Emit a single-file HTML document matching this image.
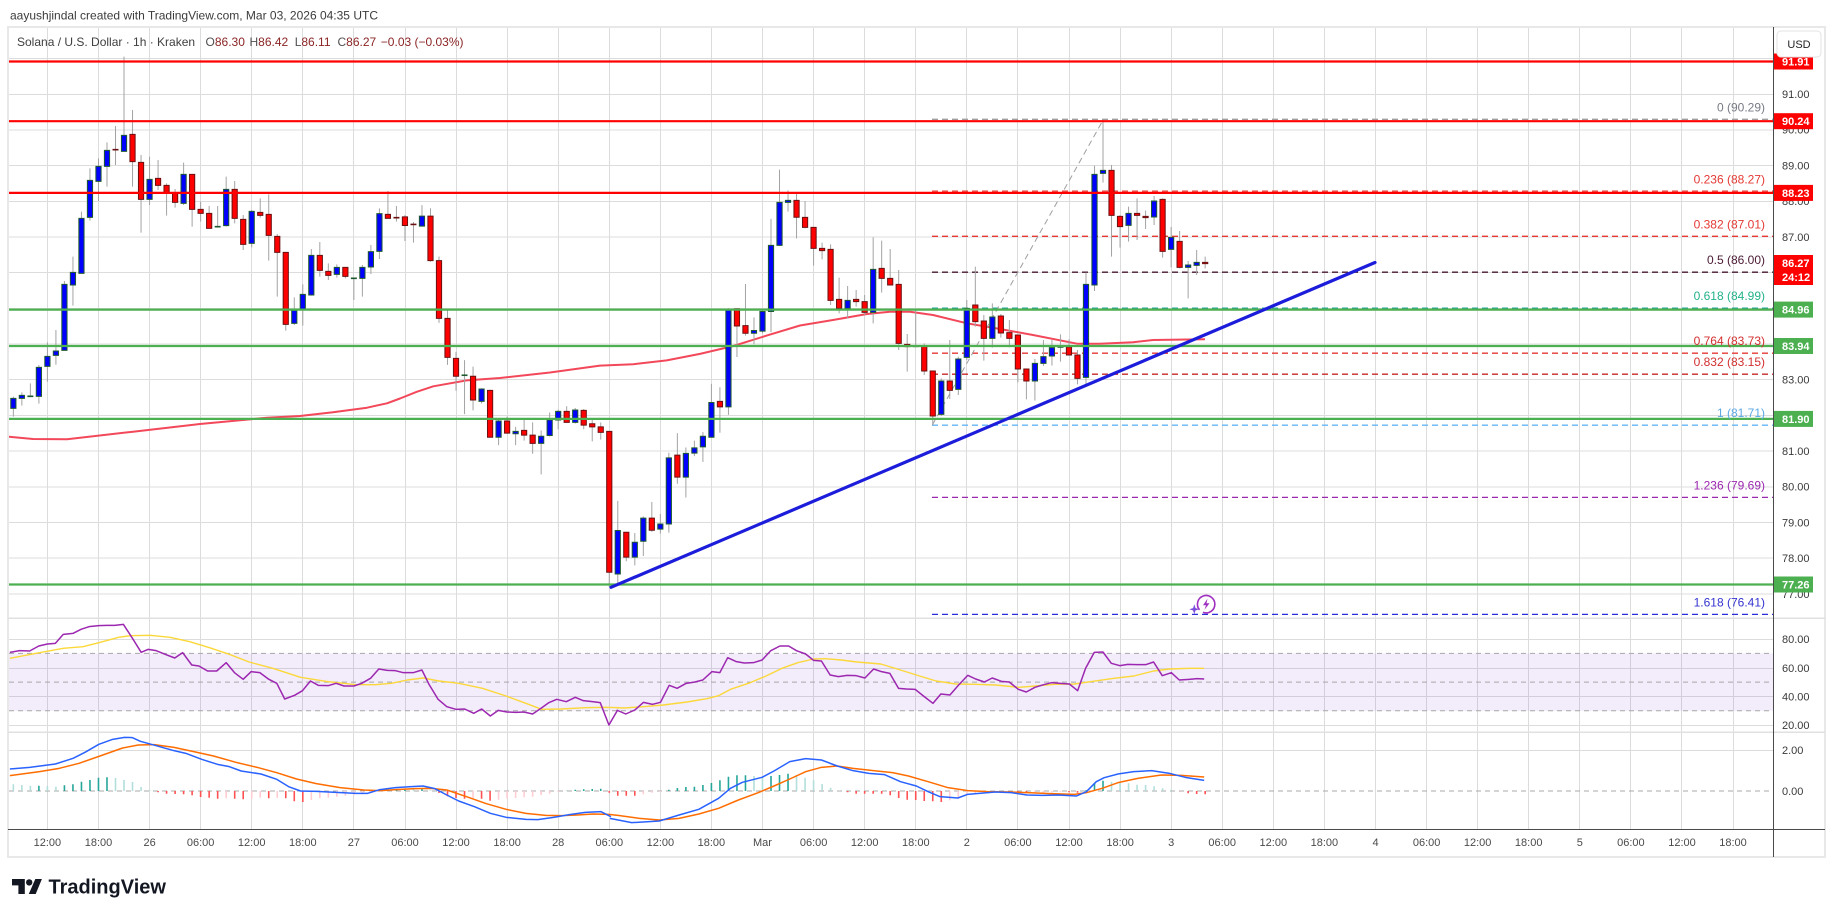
<!DOCTYPE html>
<html><head><meta charset="utf-8"><style>
html,body{margin:0;padding:0;background:#fff;}
svg{display:block;font-family:"Liberation Sans",Arial,sans-serif;}
.w{fill:none;stroke:#a3a3a3;stroke-width:1;vector-effect:non-scaling-stroke;}
.u rect{fill:#0000ff;stroke:#1e5a2e;stroke-width:1;vector-effect:non-scaling-stroke;}
.d rect{fill:#ff0000;stroke:#6b1010;stroke-width:1;vector-effect:non-scaling-stroke;}
.zu{fill:none;stroke:#1e5a2e;stroke-width:1.6;vector-effect:non-scaling-stroke;}
.zd{fill:none;stroke:#6b1010;stroke-width:1.6;vector-effect:non-scaling-stroke;}
.ln{fill:none;stroke-linejoin:round;vector-effect:non-scaling-stroke;}
</style></head><body>
<svg width="1835" height="917" viewBox="0 0 1835 917" xmlns="http://www.w3.org/2000/svg">
<defs><clipPath id="mp"><rect x="9" y="28" width="1764" height="590"/></clipPath>
<clipPath id="rp"><rect x="9" y="619" width="1764" height="113"/></clipPath>
<clipPath id="mc"><rect x="9" y="733" width="1764" height="96"/></clipPath></defs>
<rect width="1835" height="917" fill="#fff"/>
<rect x="8" y="27" width="1817" height="830" fill="#fff" stroke="#e8e8e8" stroke-width="2"/>
<!-- grid -->
<path stroke="#dcdcdc" stroke-width="1" fill="none" d="M47.5 28V829M98.5 28V829M149.5 28V829M200.5 28V829M251.5 28V829M302.5 28V829M353.5 28V829M405.5 28V829M456.5 28V829M507.5 28V829M558.5 28V829M609.5 28V829M660.5 28V829M711.5 28V829M762.5 28V829M813.5 28V829M864.5 28V829M915.5 28V829M966.5 28V829M1017.5 28V829M1069.5 28V829M1120.5 28V829M1171.5 28V829M1222.5 28V829M1273.5 28V829M1324.5 28V829M1375.5 28V829M1426.5 28V829M1477.5 28V829M1528.5 28V829M1579.5 28V829M1630.5 28V829M1681.5 28V829M1733.5 28V829
M9 58.5H1773M9 94.5H1773M9 130H1773M9 165.5H1773M9 201.5H1773M9 237H1773M9 272.5H1773M9 308.5H1773M9 344H1773M9 379.5H1773M9 415.5H1773M9 451H1773M9 487H1773M9 522.5H1773M9 558H1773M9 594H1773
M9 639.5H1773M9 668.5H1773M9 696.5H1773M9 725.5H1773M9 750.5H1773"/>
<rect x="9" y="653.4" width="1764" height="57.4" fill="rgba(140,70,220,0.10)"/>
<g stroke="#a8a8a8" stroke-width="1" stroke-dasharray="5,4">
<line x1="9" y1="653.4" x2="1773" y2="653.4"/>
<line x1="9" y1="682.1" x2="1773" y2="682.1"/>
<line x1="9" y1="710.8" x2="1773" y2="710.8"/>
<line x1="9" y1="791" x2="1773" y2="791"/>
</g>
<!-- MA -->
<polyline clip-path="url(#mp)" fill="none" stroke="#f2485a" stroke-width="2" stroke-linejoin="round" points="8,436.7 33,439 67,439.3 133,431.7 200,424 267,417.7 300,416 333,412.3 367,407.7 387,403.3 400,398.5 416.7,391.8 433.3,386.3 466.7,380.4 500,378 550,372.5 600,365.6 633.3,364.2 666.7,360.4 700,353.9 733.3,346 766.7,335.6 800,325.5 833,320 867,314 890,311.7 910,311.7 933,315 967,323.3 1000,329 1033,335 1077,343.7 1100,343.7 1133,342.3 1153,340 1205,339.3"/>
<!-- fib -->
<g stroke-width="1.3" stroke-dasharray="6,4" fill="none">
<line x1="932" y1="119.3" x2="1773" y2="119.3" stroke="#9e9e9e"/>
<line x1="932" y1="191.1" x2="1773" y2="191.1" stroke="#e53935"/>
<line x1="932" y1="236.3" x2="1773" y2="236.3" stroke="#e53935"/>
<line x1="932" y1="272.2" x2="1773" y2="272.2" stroke="#4a1a33"/>
<line x1="932" y1="308.2" x2="1773" y2="308.2" stroke="#26a69a"/>
<line x1="932" y1="353.2" x2="1773" y2="353.2" stroke="#e53935"/>
<line x1="932" y1="374.2" x2="1773" y2="374.2" stroke="#c62828"/>
<line x1="932" y1="425.2" x2="1773" y2="425.2" stroke="#64b5f6"/>
<line x1="932" y1="497.4" x2="1773" y2="497.4" stroke="#9c27b0"/>
<line x1="932" y1="614.4" x2="1773" y2="614.4" stroke="#2b2bd9"/>
<line x1="932.3" y1="425" x2="1103.5" y2="119.3" stroke="#9e9e9e" stroke-width="1"/>
</g>
<!-- candles -->
<g clip-path="url(#mp)">
<g transform="translate(47.4,55) scale(8.513,0.333333)">
<path class="w" d="M-4 1025V1085M-3 1012V1052M-2 985V1026M-1 930V1046M0 862V980M1 825V929M2 678V886M3 605V752M4 470V655M5 340V497M6 310V438M7 262V395M8 213V330M9 5V290M10 165V395M11 300V533M12 305V450M13 315V405M14 385V482M15 402V458M16 323V450M17 357V515M18 440V500M19 453V520M20 453V518M21 365V515M22 378V505M23 480V585M24 465V577M25 430V488M26 418V617M27 537V725M28 592V827M29 727V810M30 688V812M31 582V722M32 561V665M33 625V675M34 628V668M35 637V670M36 668V735M37 630V725M38 570V657M39 460V612M40 408V490M41 453V500"/>
<g class="u">
<rect x="-4.305" y="1030" width="0.61" height="30"/><rect x="-3.305" y="1021" width="0.61" height="9"/><rect x="-1.305" y="937" width="0.61" height="87"/><rect x="-0.305" y="904" width="0.61" height="30"/><rect x="0.695" y="888" width="0.61" height="13"/><rect x="1.695" y="688" width="0.61" height="198"/><rect x="2.695" y="652" width="0.61" height="38"/><rect x="3.695" y="490" width="0.61" height="165"/><rect x="4.695" y="376" width="0.61" height="111"/><rect x="5.695" y="334" width="0.61" height="45"/><rect x="6.695" y="286" width="0.61" height="48"/><rect x="8.695" y="241" width="0.61" height="48"/><rect x="11.695" y="373" width="0.61" height="60"/><rect x="15.695" y="358" width="0.61" height="87"/><rect x="20.695" y="403" width="0.61" height="109"/><rect x="23.695" y="469" width="0.61" height="96"/><rect x="28.695" y="766" width="0.61" height="39"/><rect x="29.695" y="718" width="0.61" height="44"/><rect x="30.695" y="601" width="0.61" height="119"/><rect x="33.695" y="637" width="0.61" height="21"/><rect x="36.695" y="637" width="0.61" height="33"/><rect x="37.695" y="590" width="0.61" height="46"/><rect x="38.695" y="476" width="0.61" height="113"/>
</g>
<g class="d">
<rect x="9.695" y="238" width="0.61" height="82"/><rect x="10.695" y="322" width="0.61" height="111"/><rect x="12.695" y="370" width="0.61" height="21"/><rect x="13.695" y="391" width="0.61" height="23"/><rect x="14.695" y="414" width="0.61" height="28"/><rect x="16.695" y="358" width="0.61" height="105"/><rect x="17.695" y="463" width="0.61" height="12"/><rect x="18.695" y="475" width="0.61" height="45"/><rect x="21.695" y="403" width="0.61" height="87"/><rect x="22.695" y="493" width="0.61" height="75"/><rect x="24.695" y="472" width="0.61" height="9"/><rect x="25.695" y="478" width="0.61" height="63"/><rect x="26.695" y="544" width="0.61" height="48"/><rect x="27.695" y="592" width="0.61" height="216"/><rect x="31.695" y="601" width="0.61" height="45"/><rect x="32.695" y="649" width="0.61" height="12"/><rect x="34.695" y="637" width="0.61" height="27"/><rect x="39.695" y="478" width="0.61" height="12"/>
</g>
<path class="zu" d="M-2.35 1024H-1.65M19.65 515H20.35M35.65 670H36.35"/>
<path class="zd" d="M7.65 284H8.35M40.65 488H41.35"/>
</g>
<g transform="translate(47.4,55) scale(8.513,0.344353)">
<path class="w" d="M42 465V540M43 485V545M44 436V497M45 445V600M46 585V778M47 740V900M48 862V975M49 886V1043M50 905V1032M51 968V1012M52 972V1110M53 1055V1133M54 1050V1100M55 1080V1133M56 1060V1120M57 1067V1158M58 1090V1218M59 1038V1108M60 1030V1087M61 1020V1068M62 1025V1070M63 1028V1087M64 1058V1122M65 1067V1117M66 1093V1545M67 1295V1540M68 1386V1470M69 1388V1482M70 1340V1455M71 1298V1385M72 1333V1390M73 1155V1387M74 1098V1245M75 1140V1285M76 1120V1165M77 1095V1182M78 955V1110M79 965V1097M80 735V1045M81 735V877M82 665V815M83 762V840M84 740V808M85 476V805M86 333V555M87 393V455M88 400V533"/>
<g class="u">
<rect x="43.695" y="468" width="0.61" height="29"/><rect x="50.695" y="970" width="0.61" height="36"/><rect x="52.695" y="1063" width="0.61" height="47"/><rect x="54.695" y="1093" width="0.61" height="7"/><rect x="57.695" y="1107" width="0.61" height="21"/><rect x="58.695" y="1060" width="0.61" height="45"/><rect x="59.695" y="1035" width="0.61" height="25"/><rect x="61.695" y="1031" width="0.61" height="36"/><rect x="66.695" y="1381" width="0.61" height="126"/><rect x="68.695" y="1415" width="0.61" height="43"/><rect x="69.695" y="1345" width="0.61" height="67"/><rect x="71.695" y="1362" width="0.61" height="15"/><rect x="72.695" y="1170" width="0.61" height="192"/><rect x="74.695" y="1157" width="0.61" height="69"/><rect x="75.695" y="1141" width="0.61" height="15"/><rect x="76.695" y="1107" width="0.61" height="31"/><rect x="77.695" y="1009" width="0.61" height="101"/><rect x="79.695" y="740" width="0.61" height="282"/><rect x="82.695" y="800" width="0.61" height="8"/><rect x="83.695" y="745" width="0.61" height="57"/><rect x="84.695" y="553" width="0.61" height="192"/><rect x="85.695" y="428" width="0.61" height="125"/><rect x="86.695" y="422" width="0.61" height="6"/>
</g>
<g class="d">
<rect x="41.695" y="470" width="0.61" height="25"/><rect x="44.695" y="468" width="0.61" height="129"/><rect x="45.695" y="597" width="0.61" height="168"/><rect x="46.695" y="765" width="0.61" height="113"/><rect x="47.695" y="881" width="0.61" height="52"/><rect x="49.695" y="933" width="0.61" height="69"/><rect x="51.695" y="974" width="0.61" height="136"/><rect x="53.695" y="1063" width="0.61" height="35"/><rect x="55.695" y="1090" width="0.61" height="14"/><rect x="56.695" y="1104" width="0.61" height="24"/><rect x="60.695" y="1035" width="0.61" height="32"/><rect x="62.695" y="1032" width="0.61" height="43"/><rect x="63.695" y="1071" width="0.61" height="9"/><rect x="64.695" y="1080" width="0.61" height="16"/><rect x="65.695" y="1093" width="0.61" height="409"/><rect x="67.695" y="1386" width="0.61" height="72"/><rect x="70.695" y="1345" width="0.61" height="35"/><rect x="73.695" y="1162" width="0.61" height="64"/><rect x="78.695" y="1006" width="0.61" height="16"/><rect x="80.695" y="737" width="0.61" height="50"/><rect x="81.695" y="786" width="0.61" height="22"/><rect x="87.695" y="422" width="0.61" height="49"/>
</g>
<path class="zu" d="M48.65 930H49.35"/>
<path class="zd" d="M42.65 492H43.35"/>
</g>
<g transform="translate(47.4,55) scale(8.513,0.333333)">
<path class="w" d="M89 438V520M90 517V632M91 563V613M92 568V750M93 668V775M94 693V790M95 705V755M96 720V780M97 547V805M98 557V713M99 582V690M100 645V885M101 837V950M102 765V876M103 865V960M104 948V1110M105 970V1083M106 855V1032M107 905V1020M108 735V915M109 635V815M110 780V917M111 745V878M112 777V848M113 795V877M114 840V982M115 942V1033M116 912V1037M117 855V933M118 855V932M119 838V920M120 853V902M121 885V988M122 653V993M123 332V708M124 192V383M125 330V605M126 480V578M127 455V560M128 430V555M129 467V522M130 423V510M131 430V608M132 516V637M133 528V640M134 618V730M135 585V660M136 605V640"/>
<g class="u">
<rect x="93.695" y="736" width="0.61" height="24"/><rect x="96.695" y="643" width="0.61" height="129"/><rect x="104.695" y="978" width="0.61" height="100"/><rect x="106.695" y="912" width="0.61" height="91"/><rect x="107.695" y="760" width="0.61" height="147"/><rect x="110.695" y="786" width="0.61" height="64"/><rect x="115.695" y="925" width="0.61" height="53"/><rect x="116.695" y="905" width="0.61" height="20"/><rect x="117.695" y="878" width="0.61" height="25"/><rect x="121.695" y="688" width="0.61" height="279"/><rect x="122.695" y="358" width="0.61" height="332"/><rect x="123.695" y="346" width="0.61" height="9"/><rect x="126.695" y="475" width="0.61" height="36"/><rect x="129.695" y="438" width="0.61" height="48"/><rect x="131.695" y="547" width="0.61" height="36"/><rect x="133.695" y="630" width="0.61" height="7"/><rect x="134.695" y="622" width="0.61" height="9"/>
</g>
<g class="d">
<rect x="88.695" y="487" width="0.61" height="30"/><rect x="89.695" y="517" width="0.61" height="63"/><rect x="90.695" y="580" width="0.61" height="7"/><rect x="91.695" y="583" width="0.61" height="153"/><rect x="92.695" y="733" width="0.61" height="27"/><rect x="94.695" y="733" width="0.61" height="7"/><rect x="95.695" y="740" width="0.61" height="32"/><rect x="97.695" y="640" width="0.61" height="30"/><rect x="98.695" y="670" width="0.61" height="20"/><rect x="99.695" y="688" width="0.61" height="177"/><rect x="100.695" y="868" width="0.61" height="7"/><rect x="102.695" y="872" width="0.61" height="76"/><rect x="103.695" y="948" width="0.61" height="135"/><rect x="105.695" y="978" width="0.61" height="28"/><rect x="108.695" y="750" width="0.61" height="50"/><rect x="109.695" y="798" width="0.61" height="52"/><rect x="111.695" y="783" width="0.61" height="51"/><rect x="112.695" y="833" width="0.61" height="17"/><rect x="113.695" y="840" width="0.61" height="102"/><rect x="114.695" y="942" width="0.61" height="36"/><rect x="119.695" y="876" width="0.61" height="24"/><rect x="120.695" y="900" width="0.61" height="70"/><rect x="124.695" y="346" width="0.61" height="135"/><rect x="125.695" y="484" width="0.61" height="31"/><rect x="127.695" y="475" width="0.61" height="6"/><rect x="128.695" y="484" width="0.61" height="4"/><rect x="130.695" y="433" width="0.61" height="156"/><rect x="132.695" y="559" width="0.61" height="78"/><rect x="135.695" y="622" width="0.61" height="4"/>
</g>
<path class="zu" d="M118.65 876H119.35"/>
<path class="zd" d="M101.65 874H102.35"/>
</g>
</g>
<!-- S/R lines -->
<g stroke-width="2.2">
<line x1="9" y1="61.5" x2="1773" y2="61.5" stroke="#ff0000"/>
<line x1="9" y1="121.2" x2="1773" y2="121.2" stroke="#ff0000"/>
<line x1="9" y1="192.9" x2="1773" y2="192.9" stroke="#ff0000"/>
<line x1="9" y1="309.6" x2="1773" y2="309.6" stroke="#4caf50"/>
<line x1="9" y1="346" x2="1773" y2="346" stroke="#4caf50"/>
<line x1="9" y1="418.9" x2="1773" y2="418.9" stroke="#4caf50"/>
<line x1="9" y1="584.5" x2="1773" y2="584.5" stroke="#4caf50"/>
</g>
<line x1="611" y1="587.3" x2="1375" y2="262.5" stroke="#1c1cdb" stroke-width="3.2" stroke-linecap="round"/>
<g font-size="12" text-anchor="end">
<text x="1765" y="111.3" fill="#787b86">0 (90.29)</text>
<text x="1765" y="183.3" fill="#e53935">0.236 (88.27)</text>
<text x="1765" y="228.3" fill="#e53935">0.382 (87.01)</text>
<text x="1765" y="264.2" fill="#4a1a33">0.5 (86.00)</text>
<text x="1765" y="300.2" fill="#22b28a">0.618 (84.99)</text>
<text x="1765" y="345.2" fill="#d32f2f">0.764 (83.73)</text>
<text x="1765" y="366.2" fill="#d32f2f">0.832 (83.15)</text>
<text x="1765" y="417.2" fill="#5aa9e6">1 (81.71)</text>
<text x="1765" y="489.4" fill="#9c27b0">1.236 (79.69)</text>
<text x="1765" y="606.4" fill="#3434d0">1.618 (76.41)</text>
</g>
<g transform="translate(1206,604.3)">
<path d="M-6.5,5.5 A8.7,8.7 0 1 1 -3,8" fill="none" stroke="#a030c0" stroke-width="1.6"/>
<path d="M1.5,-5.5 L-3,1 L0,1 L-1.5,5.5 L3.5,-1 L0.5,-1 Z" fill="#a030c0"/>
</g>
<path d="M1194.3,604.3 L1195.5,608.1 L1199.3,609.3 L1195.5,610.5 L1194.3,614.3 L1193.1,610.5 L1189.3,609.3 L1193.1,608.1 Z" fill="#7b4ddb"/>
<!-- RSI -->
<g clip-path="url(#rp)">
<g transform="translate(0,600) scale(0.395413,0.333333)">
<polyline class="ln" stroke="#fbd83a" stroke-width="1.4" points="25,175 100,158 160,145 210,140 250,128 300,112 330,107 380,106 430,112 480,125 530,143 580,163 630,186 690,205 760,232 830,245 900,254 950,254 990,250 1030,240 1070,234 1110,243 1160,250 1220,265 1280,288 1330,310 1370,328 1420,327 1480,323 1530,322 1568,323"/>
<polyline class="ln" stroke="#9c27b0" stroke-width="1.5" points="25,157 50,152 75,153 98,138 120,132 140,130 160,103 185,100 205,88 225,80 250,77 270,76 290,76 312,73 335,115 357,157 375,148 395,152 420,164 442,174 462,158 485,195 503,198 525,213 548,213 572,188 593,218 615,238 635,215 657,218 680,238 700,250 720,297 745,286 765,272 785,243 805,256 830,257 850,250 870,258 895,258 915,250 937,235 958,207 980,211 1000,212 1020,218 1045,218 1067,210 1085,253 1108,298 1130,320 1153,328 1175,327 1198,340 1218,327 1240,348 1260,331 1282,336 1305,337 1325,336 1347,342 1368,325 1388,308 1408,298 1432,305 1455,292 1475,302 1498,305 1518,308 1540,375 1562,330"/>
</g>
<g transform="translate(600,600) scale(0.395413,0.333333)">
<polyline class="ln" stroke="#fbd83a" stroke-width="1.4" points="40,323 60,324 110,320 160,315 220,306 270,296 300,287 330,268 380,248 420,228 460,205 500,188 540,177 570,176 610,180 650,186 710,192 760,210 800,225 850,243 900,252 950,253 1000,255 1060,262 1100,258 1150,253 1200,252 1240,245 1300,235 1350,228 1400,213 1440,207 1490,205 1528,205"/>
<polyline class="ln" stroke="#9c27b0" stroke-width="1.5" points="42,330 65,342 88,330 110,307 133,313 153,307 175,256 195,265 218,250 240,246 260,240 283,215 303,218 323,173 345,185 365,189 388,188 410,180 432,152 455,138 477,138 497,152 520,162 540,181 560,183 582,225 603,230 625,226 648,227 670,234 692,207 712,215 733,220 755,265 775,267 797,268 818,288 842,310 862,282 885,285 907,255 930,226 950,237 972,246 992,234 1015,244 1035,246 1058,268 1078,276 1100,262 1122,254 1142,248 1163,250 1187,252 1208,272 1228,205 1250,157 1272,156 1293,190 1315,197 1335,193 1357,194 1380,194 1400,186 1422,227 1445,218 1465,240 1490,238 1510,236 1528,237"/>
</g>
</g>
<!-- MACD -->
<g clip-path="url(#mc)">
<path fill="none" stroke="#b2dfdb" stroke-width="1.6" d="M13.35 791V784.3M21.86 791V785M30.37 791V785.7M47.4 791V786M55.91 791V786.7M115.5 791V778M124.02 791V780M132.53 791V782M141.04 791V787M149.56 791V790M413.46 791V789M430.49 791V790.3M753.98 791V776M762.49 791V776.3M796.54 791V775M805.06 791V777.7M813.57 791V780.3M822.08 791V784M830.6 791V787.7M839.11 791V790.7M1111.53 791V781.7M1120.04 791V782.7M1128.55 791V783.3M1137.06 791V784.7M1145.58 791V785M1154.09 791V786.3M1162.6 791V788.3M1171.12 791V789.7"/>
<path fill="none" stroke="#26a69a" stroke-width="1.6" d="M38.89 791V785.7M64.43 791V785.3M72.94 791V784.3M81.45 791V781.7M89.97 791V780M98.48 791V777.7M106.99 791V777.3M379.41 791V790M387.92 791V789.7M396.43 791V789M404.95 791V788.7M421.97 791V788.7M566.69 791V790.7M575.21 791V789.7M583.72 791V789.3M592.23 791V789M600.75 791V788.7M668.85 791V789.7M677.36 791V788M685.88 791V787M694.39 791V786.7M702.9 791V785M711.41 791V783M719.93 791V780.3M728.44 791V776.7M736.95 791V775.3M745.47 791V775.3M771.01 791V776M779.52 791V775M788.03 791V773.7M1085.99 791V790.3M1094.5 791V783M1103.01 791V780.7"/>
<path fill="none" stroke="#ff5252" stroke-width="1.6" d="M158.07 791V792.3M166.58 791V793.7M175.1 791V794M183.61 791V794.3M192.12 791V795.3M200.63 791V797M209.15 791V797.7M217.66 791V798.7M234.69 791V798.7M243.2 791V799.3M268.74 791V798.3M285.76 791V798.3M294.28 791V801.3M302.79 791V802M439 791V793M447.51 791V796.3M456.02 791V798M464.54 791V798.7M481.56 791V798.7M490.08 791V800.7M609.26 791V792.7M617.77 791V795.7M626.28 791V795.7M634.8 791V795.7M847.62 791V792.3M856.14 791V793.7M864.65 791V793.7M873.16 791V793.7M881.67 791V793.7M890.19 791V795.3M898.7 791V798M907.21 791V799.7M915.73 791V800M924.24 791V801M932.75 791V801.3M941.27 791V802M1009.37 791V791.7M1017.88 791V792.3M1026.4 791V793.3M1068.96 791V792.3M1077.47 791V792.7M1179.63 791V791.3M1188.14 791V793.2M1196.66 791V794M1205.17 791V794.3"/>
<path fill="none" stroke="#ffcdd2" stroke-width="1.6" d="M226.17 791V798.3M251.71 791V798.7M260.23 791V797.7M277.25 791V798M311.3 791V800M319.82 791V798.3M328.33 791V797.7M336.84 791V796.7M345.36 791V795.7M353.87 791V795.3M362.38 791V794.3M370.89 791V793.3M473.05 791V798M498.59 791V799.7M507.1 791V798.7M515.62 791V798M524.13 791V797.3M532.64 791V796.7M541.15 791V795M549.67 791V793.7M558.18 791V792M643.31 791V794.3M651.82 791V792.7M660.34 791V791.7M949.78 791V800.3M958.29 791V798.7M966.8 791V795M975.32 791V793.3M983.83 791V792.3M992.34 791V791.7M1000.86 791V791.3M1034.91 791V793.2M1043.42 791V793M1051.93 791V792.5M1060.45 791V792"/>
<g transform="translate(0,600) scale(0.395413,0.333333)">
<polyline class="ln" stroke="#ff6d00" stroke-width="1.5" points="25,527 100,515 150,505 200,490 260,465 310,444 350,435 390,434 440,442 490,455 540,468 600,488 650,502 700,518 750,537 800,551 860,563 920,570 960,572 1000,569 1050,566 1090,565 1130,570 1180,590 1230,611 1280,628 1330,640 1380,646 1420,647 1460,645 1500,642 1540,643 1568,647"/>
<polyline class="ln" stroke="#2962ff" stroke-width="1.5" points="25,507 75,502 140,492 185,475 215,457 250,433 285,418 315,412 335,413 355,424 395,437 440,452 470,460 510,478 550,493 580,500 610,513 660,522 700,538 730,560 760,573 800,574 850,577 900,580 930,580 960,569 1000,563 1040,560 1070,558 1100,566 1130,585 1160,603 1200,620 1240,640 1280,652 1330,658 1360,659 1400,652 1440,644 1480,637 1520,635 1545,650"/>
</g>
<g transform="translate(600,600) scale(0.395413,0.333333)">
<polyline class="ln" stroke="#ff6d00" stroke-width="1.5" points="50,647 100,655 150,660 200,655 250,642 300,625 350,600 400,578 440,558 480,537 520,515 560,502 600,498 640,505 700,513 740,518 780,528 830,545 880,563 930,572 980,575 1040,576 1080,578 1140,581 1200,583 1230,578 1270,565 1310,548 1360,535 1420,525 1470,526 1528,531"/>
<polyline class="ln" stroke="#2962ff" stroke-width="1.5" points="25,655 80,668 150,663 200,645 250,628 300,595 330,565 360,547 410,532 440,513 480,485 520,476 560,480 600,498 640,512 680,520 720,524 760,545 800,558 830,575 860,590 905,594 930,583 970,579 1000,576 1040,578 1080,585 1120,586 1160,585 1205,588 1230,575 1255,545 1275,533 1310,522 1350,515 1395,512 1440,520 1480,532 1528,541"/>
</g>
</g>
<g stroke="#e0e0e0" stroke-width="1.5">
<line x1="8" y1="618.3" x2="1825" y2="618.3"/>
<line x1="8" y1="732.3" x2="1825" y2="732.3"/>
</g>
<line x1="1773.5" y1="27" x2="1773.5" y2="857" stroke="#4a4a4a" stroke-width="1"/>
<line x1="8" y1="829.5" x2="1825" y2="829.5" stroke="#4a4a4a" stroke-width="1"/>
<g font-size="11" fill="#3a3a3a">
<text x="1782" y="98">91.00</text>
<text x="1782" y="133.7">90.00</text>
<text x="1782" y="169.4">89.00</text>
<text x="1782" y="205">88.00</text>
<text x="1782" y="240.8">87.00</text>
<text x="1782" y="276.5">86.00</text>
<text x="1782" y="312">85.00</text>
<text x="1782" y="348">84.00</text>
<text x="1782" y="383.6">83.00</text>
<text x="1782" y="419">82.00</text>
<text x="1782" y="455">81.00</text>
<text x="1782" y="490.7">80.00</text>
<text x="1782" y="526.4">79.00</text>
<text x="1782" y="562">78.00</text>
<text x="1782" y="597.8">77.00</text>
<text x="1782" y="643">80.00</text>
<text x="1782" y="672">60.00</text>
<text x="1782" y="700.4">40.00</text>
<text x="1782" y="729">20.00</text>
<text x="1782" y="754">2.00</text>
<text x="1782" y="795">0.00</text>
</g>
<g>
<rect x="1774" y="53.5" width="39" height="16" fill="#ff0000"/>
<rect x="1774" y="113.2" width="39" height="16" fill="#ff0000"/>
<rect x="1774" y="184.9" width="39" height="16" fill="#ff0000"/>
<rect x="1774" y="255" width="39" height="30" fill="#ff0000"/>
<rect x="1774" y="301.6" width="39" height="16" fill="#4caf50"/>
<rect x="1774" y="338" width="39" height="16" fill="#4caf50"/>
<rect x="1774" y="410.9" width="39" height="16" fill="#4caf50"/>
<rect x="1774" y="576.5" width="39" height="16" fill="#4caf50"/>
</g>
<g font-size="11" fill="#ffffff" font-weight="bold">
<text x="1782" y="65.5">91.91</text>
<text x="1782" y="125.2">90.24</text>
<text x="1782" y="196.9">88.23</text>
<text x="1782" y="267">86.27</text>
<text x="1782" y="281">24:12</text>
<text x="1782" y="313.6">84.96</text>
<text x="1782" y="350">83.94</text>
<text x="1782" y="422.9">81.90</text>
<text x="1782" y="588.5">77.26</text>
</g>
<rect x="1777" y="31" width="44" height="26" rx="4" fill="#fff" stroke="#e3e3e3"/>
<text x="1799" y="48" font-size="11" fill="#222" text-anchor="middle">USD</text>
<g font-size="11" fill="#4a4a4a" text-anchor="middle">
<text x="47.4" y="846">12:00</text><text x="98.5" y="846">18:00</text><text x="149.6" y="846">26</text>
<text x="200.6" y="846">06:00</text><text x="251.7" y="846">12:00</text><text x="302.8" y="846">18:00</text>
<text x="353.9" y="846">27</text><text x="405" y="846">06:00</text><text x="456" y="846">12:00</text>
<text x="507.1" y="846">18:00</text><text x="558.2" y="846">28</text><text x="609.3" y="846">06:00</text>
<text x="660.4" y="846">12:00</text><text x="711.4" y="846">18:00</text><text x="762.5" y="846">Mar</text>
<text x="813.6" y="846">06:00</text><text x="864.7" y="846">12:00</text><text x="915.8" y="846">18:00</text>
<text x="966.8" y="846">2</text><text x="1017.9" y="846">06:00</text><text x="1069" y="846">12:00</text>
<text x="1120.1" y="846">18:00</text><text x="1171.2" y="846">3</text><text x="1222.2" y="846">06:00</text>
<text x="1273.3" y="846">12:00</text><text x="1324.4" y="846">18:00</text><text x="1375.5" y="846">4</text>
<text x="1426.6" y="846">06:00</text><text x="1477.6" y="846">12:00</text><text x="1528.7" y="846">18:00</text>
<text x="1579.8" y="846">5</text><text x="1630.9" y="846">06:00</text><text x="1682" y="846">12:00</text>
<text x="1733" y="846">18:00</text>
</g>
<text x="10" y="19.3" font-size="12" fill="#3c3c3c">aayushjindal created with TradingView.com, Mar 03, 2026 04:35 UTC</text>
<text y="46" font-size="12"><tspan x="17" fill="#404040">Solana / U.S. Dollar · 1h · Kraken</tspan><tspan x="205.5" fill="#505050">O</tspan><tspan fill="#8b2525">86.30</tspan><tspan x="249.5" fill="#505050">H</tspan><tspan fill="#8b2525">86.42</tspan><tspan x="294.7" fill="#505050">L</tspan><tspan fill="#8b2525">86.11</tspan><tspan x="337.5" fill="#505050">C</tspan><tspan fill="#8b2525">86.27</tspan><tspan x="380.8" fill="#8b2525">−0.03 (−0.03%)</tspan></text>
<g fill="#131722">
<path d="M12,879 h12.8 v15 h-6.4 v-8.6 h-6.4 z"/>
<circle cx="29.2" cy="882.4" r="3.2"/>
<path d="M35.3,879 h6.6 l-6.2,15 h-6.9 z"/>
</g>
<text x="48.5" y="893.5" font-size="20" font-weight="bold" fill="#131722">TradingView</text>
</svg>
</body></html>
